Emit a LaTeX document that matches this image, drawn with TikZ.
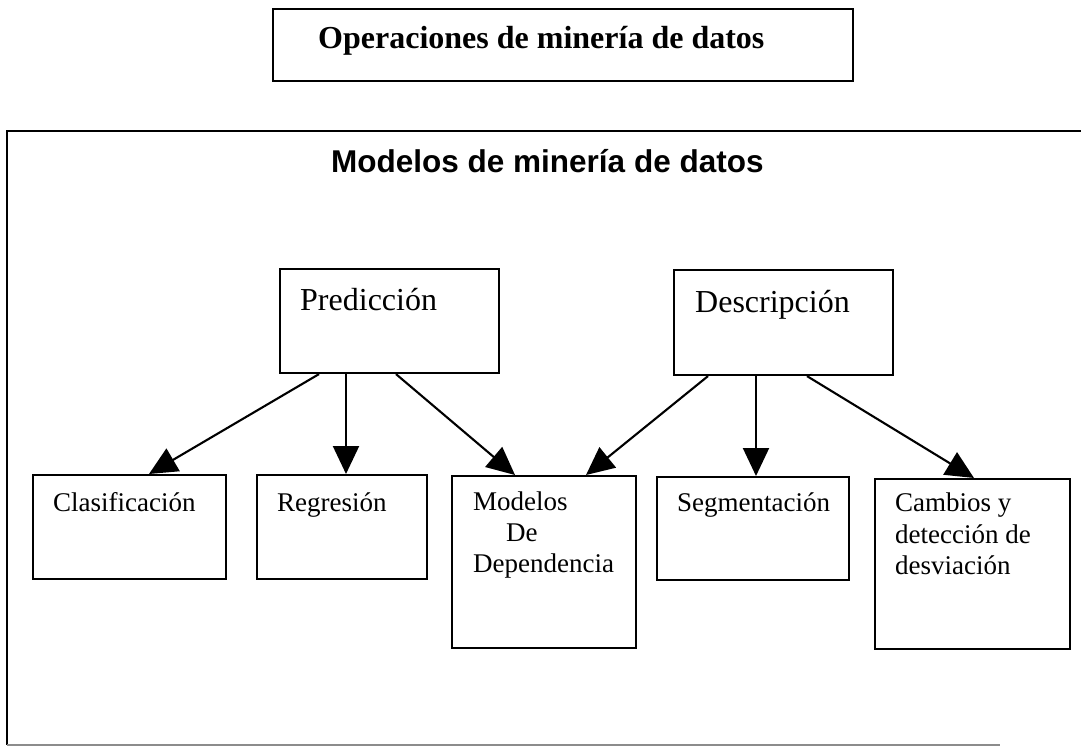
\documentclass[tikz,border=0pt]{standalone}
\usepackage{fontspec}
\setmainfont{Liberation Serif}
\newfontfamily\titlesans{Liberation Sans}
\usetikzlibrary{arrows.meta}
\begin{document}
\begin{tikzpicture}[x=1pt,y=-1pt,
  box/.style={draw, line width=2.1pt, fill=white, inner sep=0pt, anchor=north west, rectangle},
  lbl/.style={anchor=base west, inner sep=0pt, font=\fontsize{27}{31}\selectfont},
  midlbl/.style={anchor=base west, inner sep=0pt, font=\fontsize{32}{38}\selectfont},
  toptitle/.style={anchor=base west, inner sep=0pt, font=\bfseries\fontsize{32}{38}\selectfont},
  sanstitle/.style={anchor=base west, inner sep=0pt, font=\titlesans\bfseries\fontsize{31.5}{38}\selectfont},
  conn/.style={line width=2.1pt, -{Triangle[length=28pt,width=26pt]}}]
\useasboundingbox (0,0) rectangle (1081,746);
% outer frame
\draw[line width=2.1pt] (1081,131) -- (7,131) -- (7,745);
\draw[line width=1.6pt, black!45] (7,745) -- (1000,745);
% boxes
\node[box, minimum width=580pt, minimum height=72pt] (ops) at (272,8) {};
\node[box, minimum width=219pt, minimum height=104pt] (pred) at (279,268) {};
\node[box, minimum width=219pt, minimum height=105pt] (desc) at (673,269) {};
\node[box, minimum width=193pt, minimum height=104pt] (clas) at (32,474) {};
\node[box, minimum width=170pt, minimum height=104pt] (regr) at (256,474) {};
\node[box, minimum width=184pt, minimum height=172pt] (mod) at (451,475) {};
\node[box, minimum width=192pt, minimum height=103pt] (seg) at (656,476) {};
\node[box, minimum width=195pt, minimum height=170pt] (camb) at (874,478) {};
% texts
\node[toptitle] (opst) at (318,49) {Operaciones de minería de datos};
\node[sanstitle] (modt) at (331,173) {Modelos de minería de datos};
\node[midlbl] (predt) at (300,310) {Predicción};
\node[midlbl] (desct) at (695,312) {Descripción};
\node[lbl] (clast) at (53,511) {Clasificación};
\node[lbl] (regrt) at (277,511) {Regresión};
\node[lbl] (modt1) at (473,510) {Modelos};
\node[lbl] (modt2) at (506,541) {De};
\node[lbl] (modt3) at (473,572) {Dependencia};
\node[lbl] (segt) at (677,511) {Segmentación};
\node[lbl] (cambt1) at (895,511) {Cambios y};
\node[lbl] (cambt2) at (895,543) {detección de};
\node[lbl] (cambt3) at (895,574) {desviación};
% connectors
\draw[conn] ([xshift=40pt]pred.south west) -- ([xshift=117pt]clas.north west);
\draw[conn] ([xshift=67pt]pred.south west) -- ([xshift=90pt]regr.north west);
\draw[conn] ([xshift=117pt]pred.south west) -- ([xshift=64pt]mod.north west);
\draw[conn] ([xshift=35pt]desc.south west) -- ([xshift=135pt]mod.north west);
\draw[conn] ([xshift=83pt]desc.south west) -- ([xshift=100pt]seg.north west);
\draw[conn] ([xshift=134pt]desc.south west) -- ([xshift=100pt]camb.north west);
\end{tikzpicture}
\end{document}
